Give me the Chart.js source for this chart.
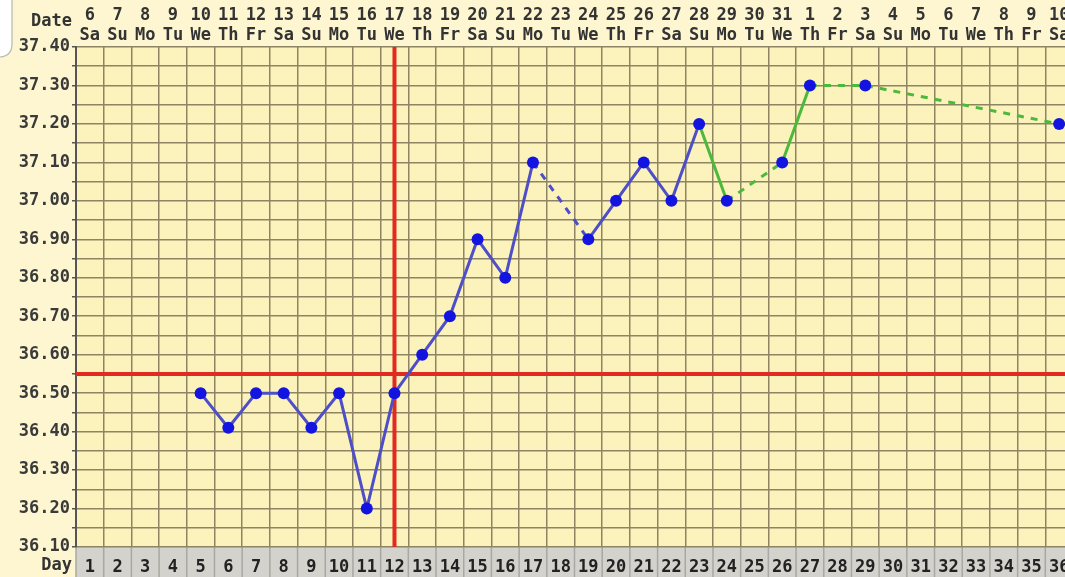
<!DOCTYPE html>
<html>
<head>
<meta charset="utf-8">
<script src="https://cdn.jsdelivr.net/npm/chart.js@4.4.1/dist/chart.umd.min.js"></script>
<style>
  html, body { margin: 0; padding: 0; overflow: hidden; background: #fdf6d0; }
  #wrap { width: 1080px; height: 577px; }
</style>
</head>
<body>
<div id="wrap"><canvas id="bbtChart" width="1080" height="577"></canvas></div>
<script>
const cycleDays = [1,2,3,4,5,6,7,8,9,10,11,12,13,14,15,16,17,18,19,20,21,22,23,24,25,26,27,28,29,30,31,32,33,34,35,36];
const dateLabels = ["6","7","8","9","10","11","12","13","14","15","16","17","18","19","20","21","22","23","24","25","26","27","28","29","30","31","1","2","3","4","5","6","7","8","9","10"];
const weekdayLabels = ["Sa","Su","Mo","Tu","We","Th","Fr","Sa","Su","Mo","Tu","We","Th","Fr","Sa","Su","Mo","Tu","We","Th","Fr","Sa","Su","Mo","Tu","We","Th","Fr","Sa","Su","Mo","Tu","We","Th","Fr","Sa"];
const temperatures = [null,null,null,null,36.50,36.41,36.50,36.50,36.41,36.50,36.20,36.50,36.60,36.70,36.90,36.80,37.10,null,36.90,37.00,37.10,37.00,37.20,37.00,null,37.10,37.30,null,37.30,null,null,null,null,null,null,37.20];
const tempTicks = [36.10,36.20,36.30,36.40,36.50,36.60,36.70,36.80,36.90,37.00,37.10,37.20,37.30,37.40];
const coverline = 36.55;
const ovulationDay = 12;
const greenFromDay = 23;

const FONT = "'DejaVu Sans Mono', monospace";
const blueLine = "#4e4ec8";
const greenLine = "#4cb83c";

// grid lines every 0.05, labels every 0.1
let gridValues = [];
tempTicks.forEach((t, i) => {
	gridValues.push(t);
	if (i < tempTicks.length - 1) gridValues.push(Math.round((t + 0.05) * 100) / 100);
});

const paperPlugin = {
	id: "paper",
	beforeDraw(chart) {
		const c = chart.ctx;
		const a = chart.chartArea;
		c.save();
		c.fillStyle = "#fdf6d0";
		c.fillRect(0, 0, chart.width, chart.height);
		c.fillStyle = "#fcf2bb";
		c.fillRect(a.left, a.top, a.right - a.left, a.bottom - a.top);
		// day band
		c.fillStyle = "#d3d2cc";
		c.fillRect(a.left, a.bottom, a.right - a.left, chart.height - a.bottom);
		c.strokeStyle = "#a8a8a4";
		c.lineWidth = 1.5;
		for (let i = 0; i <= cycleDays.length; i++) {
			const px = a.left + (a.right - a.left) * i / cycleDays.length;
			c.beginPath();
			c.moveTo(px, a.bottom);
			c.lineTo(px, chart.height);
			c.stroke();
		}
		// white corner top-left
		c.fillStyle = "#ffffff";
		c.strokeStyle = "#b8b8b0";
		c.lineWidth = 1.2;
		c.beginPath();
		c.moveTo(-2, -2);
		c.lineTo(12, -2);
		c.lineTo(12, 44);
		c.quadraticCurveTo(12, 56, 0, 57);
		c.lineTo(-2, 57);
		c.closePath();
		c.fill();
		c.stroke();
		// axis words
		c.fillStyle = "#333";
		c.font = "bold 17px " + FONT;
		c.textAlign = "right";
		c.textBaseline = "middle";
		c.fillText("Date", 72, 22);
		c.fillText("Day", 72, 566);
		c.restore();
	},
	beforeDatasetsDraw(chart) {
		const c = chart.ctx;
		const a = chart.chartArea;
		const y = chart.scales.y.getPixelForValue(coverline);
		const x = chart.scales.x.getPixelForValue(ovulationDay - 1);
		c.save();
		c.strokeStyle = "#e02a22";
		c.lineWidth = 4;
		c.beginPath();
		c.moveTo(a.left, y);
		c.lineTo(a.right, y);
		c.moveTo(x, a.top);
		c.lineTo(x, a.bottom);
		c.stroke();
		c.restore();
	},
};

const ctx = document.getElementById("bbtChart").getContext("2d");
const greenIndex = cycleDays.indexOf(greenFromDay);

new Chart(ctx, {
	type: "line",
	data: {
		labels: cycleDays,
		datasets: [
			{
				data: temperatures,
				spanGaps: true,
				borderColor: blueLine,
				borderWidth: 3,
				pointRadius: 6,
				pointBackgroundColor: "#1414e0",
				pointBorderColor: "#1414e0",
				pointBorderWidth: 0,
				segment: {
					borderColor: (s) => (s.p0.parsed.x >= greenIndex ? greenLine : undefined),
					// missed days are bridged with a dashed line
					borderDash: (s) => (s.p0.skip || s.p1.skip ? [7, 7] : undefined),
				},
			},
		],
	},
	options: {
		responsive: false,
		animation: false,
		layout: { padding: { left: 0, right: 7, top: 0, bottom: 0 } },
		plugins: { legend: { display: false }, tooltip: { enabled: false } },
		scales: {
			x: {
				type: "category",
				position: "bottom",
				offset: true,
				grid: { offset: true, color: "#8c8462", lineWidth: 1.5, drawTicks: false },
				border: { display: false },
				ticks: {
					autoSkip: false,
					maxRotation: 0,
					padding: 10,
					color: "#222",
					font: { family: FONT, weight: "bold", size: 17 },
				},
				afterFit: (axis) => { axis.height = 30; },
			},
			x2: {
				type: "category",
				position: "top",
				labels: dateLabels,
				offset: true,
				grid: { display: false, drawTicks: false },
				border: { display: false },
				ticks: {
					autoSkip: false,
					maxRotation: 0,
					padding: 2,
					color: "#333",
					font: { family: FONT, weight: "bold", size: 17, lineHeight: 1.15 },
					callback: (v, i) => [dateLabels[i], weekdayLabels[i]],
				},
				afterFit: (axis) => { axis.height = 47; },
			},
			y: {
				type: "linear",
				min: 36.1,
				max: 37.4,
				afterBuildTicks: (axis) => {
					axis.ticks = gridValues.map((v) => ({ value: v }));
				},
				grid: { color: "#8c8462", lineWidth: 1.5, tickLength: 4, tickColor: "#555" },
				border: { color: "#555", width: 2 },
				ticks: {
					autoSkip: false,
					padding: 2,
					color: "#3a3a3a",
					font: { family: FONT, weight: "bold", size: 17 },
					callback: (v) => (tempTicks.some((t) => Math.abs(t - v) < 0.001) ? v.toFixed(2) : ""),
				},
				afterFit: (axis) => { axis.width = 76; },
			},
		},
	},
	plugins: [paperPlugin],
});
</script>
</body>
</html>
